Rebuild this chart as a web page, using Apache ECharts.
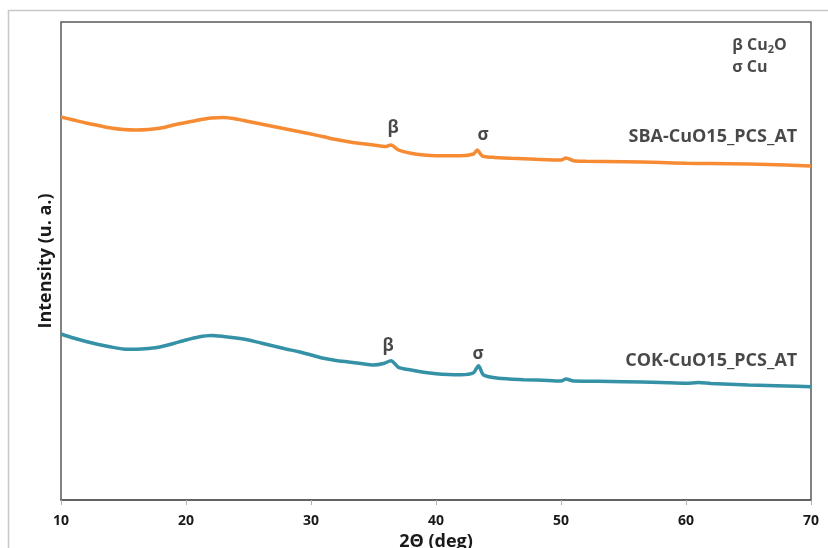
<!DOCTYPE html>
<html>
<head>
<meta charset="utf-8">
<script src="https://cdn.jsdelivr.net/npm/echarts@6/dist/echarts.min.js"></script>
<style>html,body{margin:0;padding:0;background:#fff}#c{width:828px;height:548px}</style>
</head>
<body>
<div id="c"></div>
<script>
// 2θ positions and intensities (arbitrary units)
const sbaX = [10,11,12,13,14,15,16,17,18,19,20,21,22,23,24,25,26,27,28,29,30,31,32,33,34,35,36,36.4,37,38,39,40,41,42,43,43.3,43.7,44.5,46,48,50,50.4,51,52,55,58,60,62,65,68,70];
const sbaY = [383,380,377,374.5,372,370.5,370,370.5,372,375,377.5,380,382,382.5,381,378.5,376,373.5,371,368.5,366,363.3,360.5,358.3,356.5,355,353.5,355,350,346.7,345,344.3,344.3,344.3,346,350,344,342.7,341.7,340.7,340,342,339.3,338.8,338.3,337.5,336.7,336.5,336,335,334];
const cokX = [10,11,12,13,14,15,16,17,18,19,20,21,22,23,24,25,26,27,28,29,30,31,32,33,34,35,35.8,36.4,37,38,39,40,41,42,43,43.4,43.8,45,47,49,50,50.4,51,53,55,58,60,61,62,65,68,70];
const cokY = [166,162,158.5,155.5,153,151,150.7,151.5,153.3,156.5,160,163,164.5,163.5,162,160,157,154,151,148.3,145,141.7,139.5,138,136.5,135,136.5,139.3,132.7,130,127.8,126.3,125.5,125.3,127.3,134.3,125,121.7,120.3,119.5,119,121,119,118.8,118.3,117.5,116.7,117.5,116.5,115,114,113.3];
const xTicks = [10,20,30,40,50,60,70];
const seriesNames = ['SBA-CuO15_PCS_AT','COK-CuO15_PCS_AT'];
// annotation anchors in data coordinates
const peakLabels = [
  {t:'β', x:36.56, y:372}, {t:'σ', x:43.76, y:365},
  {t:'β', x:36.16, y:154}, {t:'σ', x:43.36, y:146}
];
const nameAnchors = [{x:68.9, y:363}, {x:68.9, y:139}];
const keyAnchors = [{x:63.7, y:455, t:'{a|β Cu}{s|2}{a|O}'}, {x:63.7, y:433, t:'{a|σ Cu}'}];

const FONT = '"Open Sans"';
const TXT = '#1a1a1a';
const chart = echarts.init(document.getElementById('c'));

function zip(xs, ys){ return xs.map((x,i)=>[x, ys[i]]); }

const annData = [];
peakLabels.forEach(p => annData.push({value:[p.x,p.y], label:{show:true, formatter:p.t, position:'inside', fontSize:17, fontWeight:'bold', color:TXT, fontFamily:FONT}}));
nameAnchors.forEach((p,i) => annData.push({value:[p.x,p.y], label:{show:true, formatter:seriesNames[i], position:'left', distance:0, fontSize:18, fontWeight:'bold', color:TXT, fontFamily:FONT}}));
keyAnchors.forEach(p => annData.push({value:[p.x,p.y], label:{show:true, formatter:p.t, position:'right', distance:0,
  rich:{a:{fontSize:16, fontWeight:'bold', color:TXT, fontFamily:FONT, lineHeight:20, verticalAlign:'middle'},
        s:{fontSize:11, fontWeight:'bold', color:TXT, fontFamily:FONT, lineHeight:20, verticalAlign:'bottom', padding:[7,0,0,0]}}}}));

chart.setOption({
  animation:false,
  backgroundColor:'#fff',
  graphic:[{type:'rect', shape:{x:8.5, y:10.5, width:840, height:560}, style:{fill:'none', stroke:'#c8c8c8', lineWidth:1.5}, z:-10}],
  grid:{left:61, right:17, top:22, bottom:48, show:true, containLabel:false, outerBoundsMode:'none', borderColor:'#595959', borderWidth:1.5, backgroundColor:'transparent'},
  xAxis:{type:'value', min:10, max:70, interval:10,
    axisLine:{show:true, onZero:false, lineStyle:{color:'#595959', width:1.5}},
    axisTick:{show:true, inside:false, length:5, lineStyle:{color:'#b0b0b0'}},
    axisLabel:{margin:14, fontSize:14, fontWeight:'bold', color:TXT, fontFamily:FONT, formatter:v=>xTicks.includes(v)?String(v):''},
    splitLine:{show:false},
    name:'2Θ (deg)', nameLocation:'middle', nameGap:30,
    nameTextStyle:{fontSize:18, fontWeight:'bold', color:TXT, fontFamily:FONT}},
  yAxis:{type:'value', min:0, max:478,
    axisLine:{show:false}, axisTick:{show:false}, axisLabel:{show:false}, splitLine:{show:false},
    name:'Intensity (u. a.)', nameLocation:'middle', nameGap:6,
    nameTextStyle:{fontSize:18, fontWeight:'bold', color:TXT, fontFamily:FONT}},
  series:[
    {name:seriesNames[0], type:'line', data:zip(sbaX,sbaY), showSymbol:false, smooth:0.25, lineStyle:{color:'#f68b33', width:3.5}, itemStyle:{color:'#f68b33'}},
    {name:seriesNames[1], type:'line', data:zip(cokX,cokY), showSymbol:false, smooth:0.25, lineStyle:{color:'#3592a6', width:3.5}, itemStyle:{color:'#3592a6'}},
    {type:'scatter', symbolSize:0, data:annData, silent:true, z:5}
  ]
});
</script>
</body>
</html>
